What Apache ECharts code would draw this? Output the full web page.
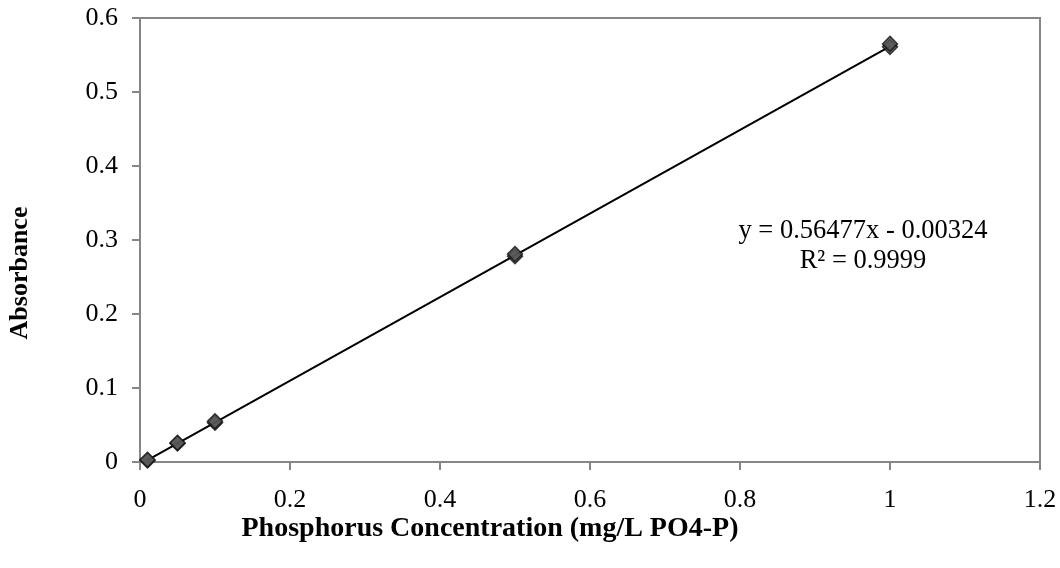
<!DOCTYPE html>
<html><head><meta charset="utf-8">
<script src="https://cdn.jsdelivr.net/npm/echarts@6/dist/echarts.min.js"></script>
<style>html,body{margin:0;padding:0;background:#fff}#c{width:1060px;height:568px}</style>
</head><body><div id="c"></div>
<script>
const concentration = [0.01, 0.01, 0.05, 0.05, 0.1, 0.1, 0.5, 0.5, 1.0, 1.0];
const absorbance    = [0.002, 0.003, 0.025, 0.026, 0.053, 0.055, 0.278, 0.281, 0.561, 0.565];
const trendX = [0.01, 1.0];
const trendY = [0.0024, 0.5615];
const xTicks = [0, 0.2, 0.4, 0.6, 0.8, 1, 1.2];
const yTicks = [0, 0.1, 0.2, 0.3, 0.4, 0.5, 0.6];
const equationText = 'y = 0.56477x - 0.00324';
const r2Text = 'R² = 0.9999';
const xTitle = 'Phosphorus Concentration (mg/L PO4-P)';
const yTitle = 'Absorbance';

const font = '"Liberation Serif", "Times New Roman", serif';
const axisGray = '#868686';
const chart = echarts.init(document.getElementById('c'));
chart.setOption({
  animation: false,
  backgroundColor: '#fff',
  grid: {left: 140, right: 20, top: 18, bottom: 106, show: true, borderColor: axisGray, borderWidth: 2},
  xAxis: {
    type: 'value', min: xTicks[0], max: xTicks[xTicks.length-1], interval: 0.2,
    axisLine: {show: true, lineStyle: {color: axisGray, width: 2}},
    axisTick: {show: true, length: 8, lineStyle: {color: axisGray, width: 2}},
    splitLine: {show: false},
    axisLabel: {fontFamily: font, fontSize: 26, color: '#000', margin: 25,
      formatter: v => String(parseFloat(v.toFixed(1)))}
  },
  yAxis: {
    type: 'value', min: yTicks[0], max: yTicks[yTicks.length-1], interval: 0.1,
    axisLine: {show: true, lineStyle: {color: axisGray, width: 2}},
    axisTick: {show: true, length: 8, lineStyle: {color: axisGray, width: 2}},
    splitLine: {show: false},
    axisLabel: {fontFamily: font, fontSize: 26, color: '#000', margin: 22,
      formatter: v => String(parseFloat(v.toFixed(1)))}
  },
  series: [
    {
      type: 'line', data: trendX.map((x, i) => [x, trendY[i]]),
      symbol: 'none', lineStyle: {color: '#000', width: 2}, z: 2, silent: true
    },
    {
      type: 'scatter', data: concentration.map((x, i) => [x, absorbance[i]]),
      symbol: 'diamond', symbolSize: 15,
      itemStyle: {color: '#555555', borderColor: '#111', borderWidth: 1.5}, z: 3
    }
  ],
  graphic: [
    {type: 'text', x: 863, y: 231, style: {text: equationText, font: '26.5px ' + font, fill: '#000', align: 'center', verticalAlign: 'middle'}},
    {type: 'text', x: 863, y: 261, style: {text: r2Text, font: '26.5px ' + font, fill: '#000', align: 'center', verticalAlign: 'middle'}},
    {type: 'text', x: 490, y: 529, style: {text: xTitle, font: 'bold 28px ' + font, fill: '#000', align: 'center', verticalAlign: 'middle'}},
    {type: 'text', x: 20, y: 273, rotation: Math.PI / 2, style: {text: yTitle, font: 'bold 26px ' + font, fill: '#000', align: 'center', verticalAlign: 'middle'}}
  ]
});
</script></body></html>
